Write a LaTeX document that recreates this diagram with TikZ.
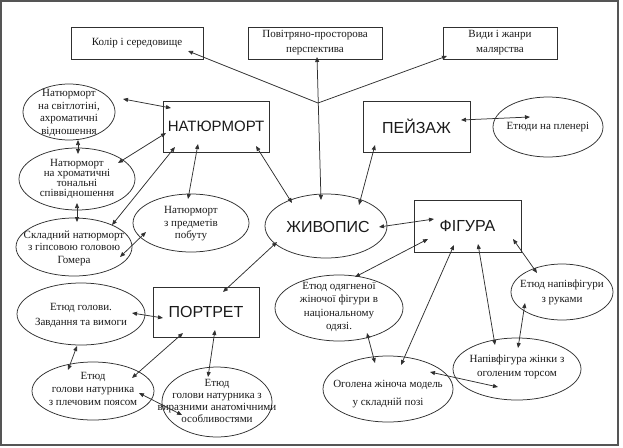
\documentclass[tikz,border=0pt]{standalone}
\usepackage{fontspec}
\setmainfont{Liberation Serif}
\newfontfamily\bigsans{Liberation Sans}
\usetikzlibrary{shapes.geometric,arrows.meta}
\definecolor{linec}{HTML}{303030}
\definecolor{framec}{HTML}{555555}
\definecolor{textc}{HTML}{1A1A1A}
\begin{document}
\begin{tikzpicture}[x=1pt,y=-1pt,
  box/.style={draw=linec, line width=0.75pt, rectangle, inner sep=0pt, text=textc, align=center,
    font=\fontsize{11}{15}\selectfont},
  bigbox/.style={draw=linec, line width=0.75pt, rectangle, inner sep=0pt, text=textc,
    font=\bigsans\fontsize{16}{18}\selectfont},
  ell/.style={draw=linec, line width=0.75pt, ellipse, inner sep=0pt},
  txt/.style={inner sep=0pt, align=center, text=textc, font=\fontsize{11}{12.5}\selectfont},
  bigtxt/.style={inner sep=0pt, text=textc, font=\bigsans\fontsize{16}{18}\selectfont},
  con/.style={draw=linec, line width=0.75pt,
    {Triangle[length=5pt,width=4pt]}-{Triangle[length=5pt,width=4pt]}}
]
\useasboundingbox (0,0) rectangle (623,447);
\draw[framec, line width=1.6pt] (1,1) rectangle (618,445);

% top boxes
\node[box, minimum width=132, minimum height=32] (kolir) at (137,43) {Колір і середовище};
\node[box, minimum width=134, minimum height=32] (povitr) at (315,43) {Повітряно-просторова\\перспектива};
\node[box, minimum width=114, minimum height=32] (vydy) at (500,43) {Види і жанри\\малярства};

% main boxes
\node[bigbox, minimum width=106, minimum height=51, font=\bigsans\fontsize{15}{18}\selectfont] (nat) at (216,126.5) {НАТЮРМОРТ};
\node[bigbox, minimum width=107, minimum height=51] (peyz) at (416.5,126.5) {ПЕЙЗАЖ};
\node[bigbox, minimum width=107, minimum height=52] (fig) at (467.5,226) {ФІГУРА};
\node[bigbox, minimum width=106, minimum height=50] (port) at (206,312) {ПОРТРЕТ};

% ellipses
\node[ell, minimum width=110, minimum height=60] (plener) at (548,127) {};
\node[txt] (plenert) at (plener) {Етюди на пленері};
\node[ell, minimum width=92, minimum height=56] (svit) at (69,112) {};
\node[txt] (svitt) at (69,113) {Натюрморт\\на світлотіні,\\ахроматичні\\відношення};
\node[ell, minimum width=116, minimum height=62] (chrom) at (77,179) {};
\node[txt, font=\fontsize{11}{9.8}\selectfont] (chromt) at (77,179) {Натюрморт\\на хроматичні\\тональні\\співвідношення};
\node[ell, minimum width=116, minimum height=58] (skl) at (74,247) {};
\node[txt] (sklt) at (74,248) {Складний натюрморт\\з гіпсовою головою\\Гомера};
\node[ell, minimum width=116, minimum height=58] (pobut) at (191,223) {};
\node[txt] (pobutt) at (191,224) {Натюрморт\\з предметів\\побуту};
\node[ell, minimum width=122, minimum height=64] (zhyv) at (326,226) {};
\node[bigtxt] (zhyvt) at (328,227) {ЖИВОПИС};
\node[ell, minimum width=128, minimum height=62] (zav) at (81,314) {};
\node[txt, font=\fontsize{11}{15}\selectfont] (zavt) at (81,315) {Етюд голови.\\Завдання та вимоги};
\node[ell, minimum width=122, minimum height=58] (plech) at (93,391) {};
\node[txt, font=\fontsize{11}{13}\selectfont] (plecht) at (93,389) {Етюд\\голови натурника\\з плечовим поясом};
\node[ell, minimum width=110, minimum height=70] (vyraz) at (217,402) {};
\node[txt, font=\fontsize{11}{12}\selectfont] (vyrazt) at (217,401) {Етюд\\голови натурника з\\виразними анатомічними\\особливостями};
\node[ell, minimum width=128, minimum height=66] (odyag) at (339,308) {};
\node[txt, font=\fontsize{11}{13.3}\selectfont] (odyagt) at (339,307) {Етюд одягненої\\жіночої фігури в\\національному\\одязі.};
\node[ell, minimum width=102, minimum height=56] (ruk) at (562,292) {};
\node[txt, font=\fontsize{11}{15}\selectfont] (rukt) at (562,292) {Етюд напівфігури\\з руками};
\node[ell, minimum width=128, minimum height=62] (torso) at (517,369) {};
\node[txt, font=\fontsize{11}{14}\selectfont] (torsot) at (517,367) {Напівфігура жінки з\\оголеним торсом};
\node[ell, minimum width=130, minimum height=66] (ogol) at (388,389) {};
\node[txt, font=\fontsize{11}{18}\selectfont] (ogolt) at (388,394) {Оголена жіноча модель\\у складній позі};

% junction
\coordinate (J) at (318,103);

% connectors
\draw[con] ([shift={(51,8)}]kolir.center) -- (J) -- ([shift={(-53,13)}]vydy.center);
\draw[con] ([shift={(2,14)}]povitr.center) -- ([shift={(-5,-26)}]zhyv.center);
\draw[con] ([shift={(54,-13)}]svit.center) -- ([shift={(-45,-18.5)}]nat.center);
\draw[con] ([shift={(9,28)}]svit.center) -- ([shift={(1,-25)}]chrom.center);
\draw[con] ([shift={(41,-16)}]chrom.center) -- ([shift={(-50,6.5)}]nat.center);
\draw[con] ([shift={(0,24)}]chrom.center) -- ([shift={(3,-25)}]skl.center);
\draw[con] ([shift={(38,-22)}]skl.center) -- ([shift={(-41,20.5)}]nat.center);
\draw[con] ([shift={(46,10)}]skl.center) -- ([shift={(-45,9)}]pobut.center);
\draw[con] ([shift={(-3,-24)}]pobut.center) -- ([shift={(-18,17.5)}]nat.center);
\draw[con] ([shift={(40,19.5)}]nat.center) -- ([shift={(-34,-23)}]zhyv.center);
\draw[con] ([shift={(44.5,-6.5)}]peyz.center) -- ([shift={(-18,-10)}]plener.center);
\draw[con] ([shift={(-41.5,18.5)}]peyz.center) -- ([shift={(33,-21)}]zhyv.center);
\draw[con] ([shift={(53,1)}]zhyv.center) -- ([shift={(-33.5,-7)}]fig.center);
\draw[con] ([shift={(-49,16)}]zhyv.center) -- ([shift={(17,-20)}]port.center);
\draw[con] ([shift={(-39.5,13)}]fig.center) -- ([shift={(16,-31)}]odyag.center);
\draw[con] ([shift={(-13.5,19)}]fig.center) -- ([shift={(13,-24)}]ogol.center);
\draw[con] ([shift={(10.5,18)}]fig.center) -- ([shift={(-22,-24)}]torso.center);
\draw[con] ([shift={(45.5,13)}]fig.center) -- ([shift={(-25,-19)}]ruk.center);
\draw[con] ([shift={(-37,11)}]ruk.center) -- ([shift={(1,-21)}]torso.center);
\draw[con] ([shift={(28,25)}]odyag.center) -- ([shift={(-13,-26)}]ogol.center);
\draw[con] ([shift={(42,-17)}]ogol.center) -- ([shift={(-19,18)}]torso.center);
\draw[con] ([shift={(51,-1)}]zav.center) -- ([shift={(-43,6)}]port.center);
\draw[con] ([shift={(-4,32)}]zav.center) -- ([shift={(-25,-21)}]plech.center);
\draw[con] ([shift={(-23,21)}]port.center) -- ([shift={(39,-13)}]plech.center);
\draw[con] ([shift={(9,18)}]port.center) -- ([shift={(-9,-25)}]vyraz.center);
\draw[con] ([shift={(46,2)}]plech.center) -- ([shift={(-35,13)}]vyraz.center);
\end{tikzpicture}
\end{document}
